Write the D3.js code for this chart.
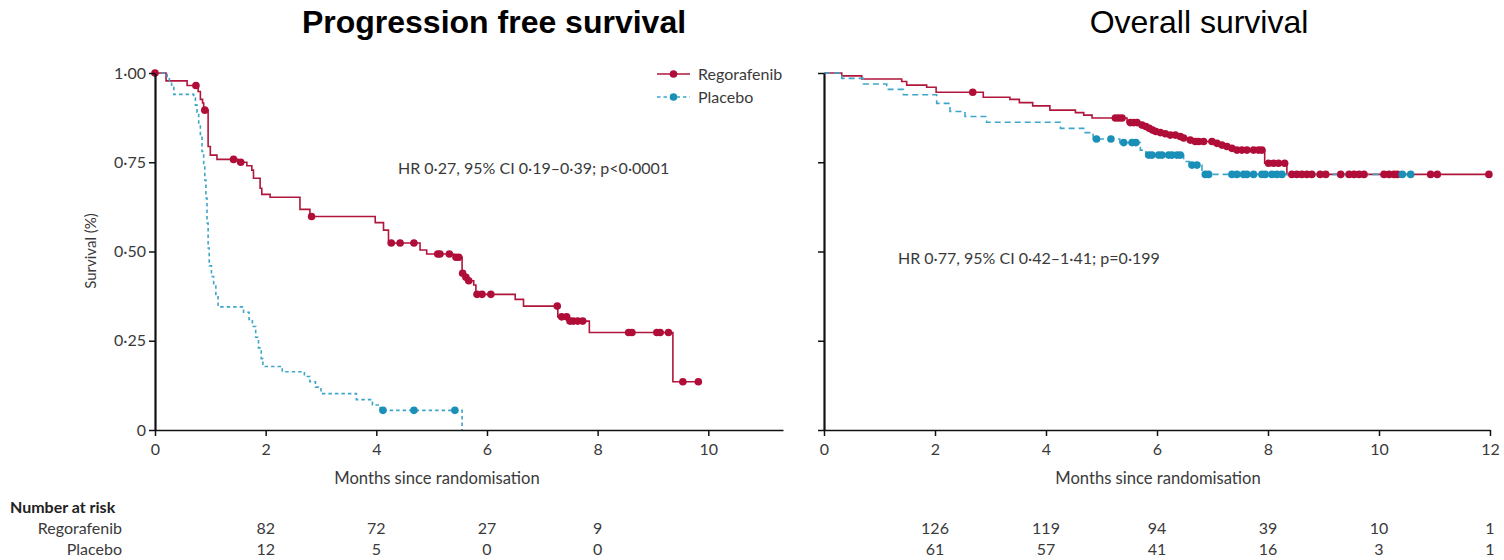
<!DOCTYPE html>
<html>
<head>
<meta charset="utf-8">
<script src="https://cdn.jsdelivr.net/npm/d3@7"></script>
<style>
  html, body { margin: 0; padding: 0; background: #fff; }
  svg { display: block; }
  .lbl { font-family: Lato, "Open Sans", sans-serif; fill: #3a3a3a; }
  .axis text { font-family: Lato, "Open Sans", sans-serif; fill: #3a3a3a; font-size: 16px; }
  .axis path, .axis line { stroke: #111; }
</style>
</head>
<body>
<svg id="chart" width="1504" height="560"></svg>
<script>
// ---- Progression free survival: Kaplan-Meier steps [months, survival] ----
const pfsRegSteps = [
  [0, 1.0], [0.20, 0.978], [0.58, 0.965], [0.78, 0.948], [0.82, 0.926], [0.86, 0.916],
  [0.88, 0.896], [0.96, 0.794], [1.00, 0.770], [1.12, 0.758], [1.50, 0.750], [1.66, 0.740],
  [1.75, 0.728], [1.78, 0.705], [1.90, 0.677], [1.93, 0.660], [2.08, 0.652], [2.62, 0.618],
  [2.80, 0.598], [3.98, 0.581], [4.13, 0.560], [4.22, 0.524], [4.79, 0.504], [4.91, 0.493],
  [5.40, 0.484], [5.55, 0.439], [5.60, 0.428], [5.66, 0.418], [5.76, 0.406], [5.80, 0.380],
  [6.51, 0.366], [6.66, 0.347], [7.28, 0.317], [7.48, 0.305], [7.85, 0.273], [9.36, 0.135]
];
const pfsRegEnd = 9.82;
const pfsRegCensored = [
  0, 0.74, 0.90, 1.42, 1.55, 2.83, 4.27, 4.43, 4.68, 5.11, 5.15, 5.32, 5.44, 5.49, 5.56,
  5.62, 5.67, 5.82, 5.91, 6.07, 7.27, 7.35, 7.44, 7.50, 7.56, 7.64, 7.73, 8.56, 8.62,
  9.07, 9.13, 9.28, 9.54, 9.82
];

const pfsPlaSteps = [
  [0, 1.0], [0.22, 0.99], [0.26, 0.975], [0.30, 0.96], [0.34, 0.94], [0.70, 0.93],
  [0.73, 0.91], [0.76, 0.89], [0.79, 0.86], [0.82, 0.82], [0.85, 0.78], [0.88, 0.74],
  [0.90, 0.70], [0.92, 0.65], [0.94, 0.58], [0.96, 0.51], [0.98, 0.46], [1.02, 0.43],
  [1.06, 0.41], [1.10, 0.38], [1.14, 0.345], [1.60, 0.33], [1.70, 0.31], [1.76, 0.29],
  [1.82, 0.26], [1.87, 0.23], [1.92, 0.20], [1.95, 0.178], [2.30, 0.163], [2.70, 0.15],
  [2.80, 0.135], [2.90, 0.12], [3.00, 0.102], [3.64, 0.085], [3.93, 0.07], [4.07, 0.055],
  [5.55, 0]
];
const pfsPlaEnd = 5.55;
const pfsPlaCensored = [4.12, 4.68, 5.42];

// ---- Overall survival ----
const osRegSteps = [
  [0, 1.0], [0.32, 0.992], [0.68, 0.983], [1.40, 0.976], [1.49, 0.966], [1.85, 0.960],
  [2.02, 0.946], [2.87, 0.932], [3.35, 0.926], [3.52, 0.917], [3.76, 0.908], [4.07, 0.896],
  [4.53, 0.889], [4.68, 0.882], [4.83, 0.874], [5.46, 0.861], [5.70, 0.854], [5.79, 0.850],
  [5.85, 0.845], [5.91, 0.840], [5.97, 0.836], [6.04, 0.833], [6.13, 0.830], [6.22, 0.826],
  [6.40, 0.822], [6.46, 0.818], [6.58, 0.812], [6.66, 0.808], [7.06, 0.803], [7.15, 0.798],
  [7.24, 0.794], [7.33, 0.789], [7.42, 0.784], [7.94, 0.747], [8.34, 0.716]
];
const osRegEnd = 11.98;
const osRegCensored = [
  2.68, 5.25, 5.31, 5.37, 5.52, 5.58, 5.64, 5.73, 5.80, 5.86, 5.92, 5.98, 6.06, 6.15,
  6.24, 6.33, 6.42, 6.48, 6.60, 6.69, 6.75, 6.84, 6.99, 7.08, 7.17, 7.26, 7.35, 7.44,
  7.53, 7.62, 7.74, 7.83, 7.89, 8.01, 8.10, 8.19, 8.30, 8.43, 8.52, 8.61, 8.70, 8.79,
  8.94, 9.04, 9.31, 9.46, 9.55, 9.64, 9.73, 10.09, 10.18, 10.27, 10.33, 10.93, 11.05, 11.98
];

const osPlaSteps = [
  [0, 1.0], [0.32, 0.985], [0.71, 0.969], [1.13, 0.954], [1.43, 0.939], [2.03, 0.915],
  [2.27, 0.892], [2.54, 0.878], [2.93, 0.862], [4.26, 0.845], [4.68, 0.833], [4.85, 0.815],
  [5.33, 0.805], [5.70, 0.784], [5.80, 0.770], [6.48, 0.752], [6.58, 0.742], [6.81, 0.716]
];
const osPlaEnd = 10.57;
const osPlaCensored = [
  4.91, 5.17, 5.40, 5.55, 5.62, 5.85, 5.91, 6.03, 6.09, 6.21, 6.27, 6.36, 6.42, 6.63,
  6.72, 6.87, 6.93, 7.35, 7.44, 7.56, 7.62, 7.74, 7.89, 7.95, 8.07, 8.16, 8.25, 10.42, 10.57
];

// ---- Axis ticks and numbers at risk ----
const yTicks = [0, 0.25, 0.5, 0.75, 1];
const pfsXTicks = [0, 2, 4, 6, 8, 10];
const osXTicks = [0, 2, 4, 6, 8, 10, 12];
const pfsRiskTimes = [2, 4, 6, 8];
const pfsRiskReg = [82, 72, 27, 9];
const pfsRiskPla = [12, 5, 0, 0];
const osRiskTimes = [2, 4, 6, 8, 10, 12];
const osRiskReg = [126, 119, 94, 39, 10, 1];
const osRiskPla = [61, 57, 41, 16, 3, 1];

const RED = "#b0163c", RED_DOT = "#b00d39";
const BLUE = "#3ea6c8", BLUE_DOT = "#1a8fb7";

const svg = d3.select("#chart");
const y = d3.scaleLinear().domain([0, 1]).range([430, 73]);
const xL = d3.scaleLinear().domain([0, 11.35]).range([155, 783]);
const xR = d3.scaleLinear().domain([0, 12]).range([824, 1490]);

const fmtY = d => d === 0 ? "0" : d3.format(".2f")(d).replace(".", "\u00b7");

// survival value of a step curve at time t
function survAt(steps, t) {
  let s = steps[0][1];
  for (const [ti, si] of steps) { if (ti <= t + 1e-9) s = si; else break; }
  return s;
}

function drawCurve(g, x, steps, end, color, dash) {
  const pts = steps.slice();
  if (end > pts[pts.length - 1][0]) pts.push([end, pts[pts.length - 1][1]]);
  const line = d3.line().x(d => x(d[0])).y(d => y(d[1])).curve(d3.curveStepAfter);
  g.append("path").attr("d", line(pts)).attr("fill", "none")
    .attr("stroke", color).attr("stroke-width", 1.6)
    .attr("stroke-dasharray", dash || null);
}

function drawCensors(g, x, steps, times, color) {
  g.selectAll(null).data(times).enter().append("circle")
    .attr("cx", t => x(t)).attr("cy", t => y(survAt(steps, t)))
    .attr("r", 3.8).attr("fill", color);
}

function drawAxes(x, ticks, showYLabels) {
  const gy = svg.append("g").attr("class", "axis").attr("transform", `translate(${x(0)},0)`)
    .call(d3.axisLeft(y).tickValues(yTicks).tickSize(6).tickSizeOuter(0).tickPadding(3)
      .tickFormat(showYLabels ? fmtY : () => ""));
  gy.select(".domain").attr("stroke-width", 2.2);
  gy.selectAll(".tick line").attr("stroke-width", 1.5);
  const gx = svg.append("g").attr("class", "axis").attr("transform", `translate(0,${y(0)})`)
    .call(d3.axisBottom(x).tickValues(ticks).tickSize(6).tickSizeOuter(0).tickPadding(8)
      .tickFormat(d3.format("d")));
  gx.select(".domain").attr("stroke-width", 1.6);
  gx.selectAll(".tick line").attr("stroke-width", 1.5);
}

// ---- Left panel: progression free survival ----
const gL = svg.append("g");
drawCurve(gL, xL, pfsRegSteps, pfsRegEnd, RED);
drawCurve(gL, xL, pfsPlaSteps, pfsPlaEnd, BLUE, "3.5,3");
drawCensors(gL, xL, pfsRegSteps, pfsRegCensored, RED_DOT);
drawCensors(gL, xL, pfsPlaSteps, pfsPlaCensored, BLUE_DOT);
drawAxes(xL, pfsXTicks, true);

// ---- Right panel: overall survival ----
const gR = svg.append("g");
drawCurve(gR, xR, osRegSteps, osRegEnd, RED);
drawCurve(gR, xR, osPlaSteps, osPlaEnd, BLUE, "6,4");
drawCensors(gR, xR, osRegSteps, osRegCensored, RED_DOT);
drawCensors(gR, xR, osPlaSteps, osPlaCensored, BLUE_DOT);
drawAxes(xR, osXTicks, false);

// ---- Titles ----
svg.append("text").attr("x", 494).attr("y", 33).attr("text-anchor", "middle")
  .attr("font-family", "'Liberation Sans', Arial, sans-serif").attr("font-weight", "bold")
  .attr("font-size", 32).attr("fill", "#000").text("Progression free survival");
svg.append("text").attr("x", 1199).attr("y", 33).attr("text-anchor", "middle")
  .attr("font-family", "'Liberation Sans', Arial, sans-serif")
  .attr("font-size", 32).attr("fill", "#000").text("Overall survival");

// ---- Axis titles ----
svg.append("text").attr("class", "lbl").attr("font-size", 15)
  .attr("transform", "translate(96,251) rotate(-90)").attr("text-anchor", "middle")
  .text("Survival (%)");
svg.append("text").attr("class", "lbl").attr("font-size", 16.6).attr("text-anchor", "middle")
  .attr("x", 437).attr("y", 484).text("Months since randomisation");
svg.append("text").attr("class", "lbl").attr("font-size", 16.6).attr("text-anchor", "middle")
  .attr("x", 1158).attr("y", 484).text("Months since randomisation");

// ---- Hazard ratio annotations ----
svg.append("text").attr("class", "lbl").attr("font-size", 16)
  .attr("x", 398).attr("y", 174).text("HR 0\u00b727, 95% CI 0\u00b719\u20130\u00b739; p<0\u00b70001");
svg.append("text").attr("class", "lbl").attr("font-size", 16)
  .attr("x", 898).attr("y", 264).text("HR 0\u00b777, 95% CI 0\u00b742\u20131\u00b741; p=0\u00b7199");

// ---- Legend ----
const legend = [
  { name: "Regorafenib", color: RED, dot: RED_DOT, dash: null, y: 74 },
  { name: "Placebo", color: BLUE, dot: BLUE_DOT, dash: "3.5,3", y: 97 }
];
const lg = svg.append("g");
legend.forEach(l => {
  lg.append("line").attr("x1", 657).attr("x2", 690).attr("y1", l.y).attr("y2", l.y)
    .attr("stroke", l.color).attr("stroke-width", 1.6).attr("stroke-dasharray", l.dash);
  lg.append("circle").attr("cx", 673.5).attr("cy", l.y).attr("r", 3.8).attr("fill", l.dot);
  lg.append("text").attr("class", "lbl").attr("font-size", 16)
    .attr("x", 698).attr("y", l.y + 6).text(l.name);
});

// ---- Numbers at risk ----
svg.append("text").attr("class", "lbl").attr("font-size", 16).attr("font-weight", "bold")
  .style("fill", "#222").attr("x", 10).attr("y", 513).text("Number at risk");
[["Regorafenib", 534], ["Placebo", 555]].forEach(([name, yy]) => {
  svg.append("text").attr("class", "lbl").attr("font-size", 16).attr("text-anchor", "end")
    .attr("x", 122).attr("y", yy).text(name);
});
function riskRow(x, times, vals, yy) {
  svg.append("g").selectAll(null).data(times).enter().append("text")
    .attr("class", "lbl").attr("font-size", 16).attr("text-anchor", "middle")
    .attr("x", t => x(t)).attr("y", yy).text((t, i) => vals[i]);
}
riskRow(xL, pfsRiskTimes, pfsRiskReg, 534);
riskRow(xL, pfsRiskTimes, pfsRiskPla, 555);
riskRow(xR, osRiskTimes, osRiskReg, 534);
riskRow(xR, osRiskTimes, osRiskPla, 555);
</script>
</body>
</html>
